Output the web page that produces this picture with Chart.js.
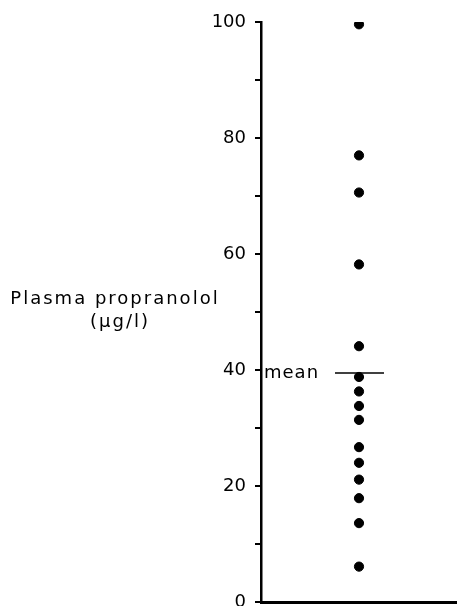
<!DOCTYPE html>
<html>
<head>
<meta charset="utf-8">
<script src="https://cdn.jsdelivr.net/npm/chart.js@4/dist/chart.umd.min.js"></script>
<style>
  body { margin: 0; background: #fff; }
</style>
</head>
<body>
<canvas id="mycanvas" width="457" height="606"></canvas>
<script>
// plasma propranolol, one dot per subject (ug/l)
var propranolol = [99.6, 77.0, 70.6, 58.2, 44.1, 38.8, 36.3, 33.8, 31.4, 26.7, 24.0, 21.1, 17.9, 13.6, 6.1];
var meanValue = 39.5;
var meanLabel = 'mean';
var yTitle = ['Plasma propranolol', '(\u00b5g/l)'];
var yMin = 0, yMax = 100, yStep = 10, yLabelStep = 20;

var fontName = '"DejaVu Sans", sans-serif';

var textPlugin = {
    id: 'textPlugin',
    afterDraw: function (chart) {
        var ctx = chart.ctx;
        var y = chart.scales.y;
        var area = chart.chartArea;
        ctx.save();
        ctx.fillStyle = '#000';
        ctx.textBaseline = 'middle';
        // mean label beside the mean line
        ctx.font = '18px ' + fontName;
        ctx.letterSpacing = '1px';
        ctx.textAlign = 'left';
        ctx.fillText(meanLabel, area.left + 3, y.getPixelForValue(meanValue));
        // horizontal axis title
        ctx.font = '18px ' + fontName;
        ctx.letterSpacing = '2px';
        ctx.textAlign = 'center';
        ctx.fillText(yTitle[0], 115, 299);
        ctx.fillText(yTitle[1], 120, 322);
        ctx.restore();
    }
};

var ctx = document.getElementById('mycanvas');
var chart = new Chart(ctx, {
    type: 'scatter',
    data: {
        datasets: [
            {
                label: 'propranolol',
                data: propranolol.map(function (v) { return {x: 1, y: v}; }),
                backgroundColor: '#000',
                borderColor: '#000',
                pointRadius: 4.6,
                pointHoverRadius: 4.6
            },
            {
                type: 'line',
                label: 'mean',
                data: [{x: 0.755, y: meanValue}, {x: 1.255, y: meanValue}],
                borderColor: '#000',
                borderWidth: 1.5,
                pointRadius: 0,
                fill: false
            }
        ]
    },
    options: {
        responsive: false,
        animation: false,
        layout: {autoPadding: false, padding: {top: 22, right: 0, left: 0, bottom: 0}},
        plugins: {
            legend: {display: false},
            tooltip: {enabled: false}
        },
        scales: {
            x: {
                type: 'linear',
                min: 0,
                max: 2,
                ticks: {display: false},
                grid: {display: false, drawTicks: false},
                border: {display: true, color: '#000', width: 3},
                afterFit: function (s) {
                    s.height = 4;
                    s.paddingLeft = 0; s.paddingRight = 0;
                }
            },
            y: {
                min: yMin,
                max: yMax,
                ticks: {
                    stepSize: yStep,
                    color: '#000',
                    padding: 9,
                    font: {family: fontName, size: 18},
                    callback: function (v) { return v % yLabelStep === 0 ? v : ''; }
                },
                grid: {drawOnChartArea: false, drawTicks: true, tickLength: 6, color: '#000', lineWidth: 2},
                border: {display: true, color: '#000', width: 2.5},
                afterFit: function (s) {
                    s.width = 261;
                    s.paddingTop = 0; s.paddingBottom = 0;
                }
            }
        }
    },
    plugins: [textPlugin]
});
</script>
</body>
</html>
